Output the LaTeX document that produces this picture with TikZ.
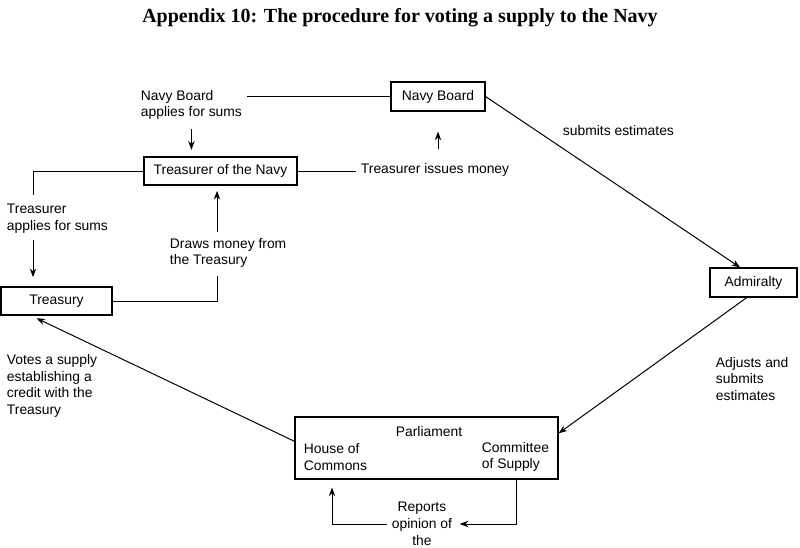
\documentclass[tikz,border=0pt]{standalone}
\usepackage{fontspec}
\setmainfont{Liberation Serif}
\setsansfont{Liberation Sans}
\usetikzlibrary{arrows.meta}
\newcommand{\flowfont}{\sffamily\fontsize{10.4}{12.6}\selectfont}

\begin{document}
\begin{tikzpicture}[x=0.75pt, y=-0.75pt,
		box/.style={draw, line width=0.8pt, inner sep=0pt, font=\flowfont},
		lbl/.style={font=\flowfont, align=left, anchor=west},
		arr/.style={-{Stealth[length=6.5pt, width=4.8pt]}},
		every path/.style={line width=0.75pt}]
			\useasboundingbox (0,0) rectangle (800,547);

			% Title
			\node[font=\bfseries\fontsize{15}{18}\selectfont] (title) at (400,18)
				{Appendix 10: The procedure for voting a supply to the Navy};

			% Boxes
			\node[box, minimum width=70.5pt,  minimum height=21.75pt] (navyboard)  at (438,96.5)  {Navy Board};
			\node[box, minimum width=114.75pt, minimum height=21pt]   (treasurer)  at (220.5,171) {Treasurer of the Navy};
			\node[box, minimum width=83.25pt, minimum height=21pt]    (treasury)   at (56.5,301)  {Treasury};
			\node[box, minimum width=65.25pt, minimum height=21.75pt] (admiralty)  at (753.5,282.5) {Admiralty};
			\node[box, minimum width=197.25pt, minimum height=46.5pt] (parliament) at (426.5,448) {};

			% Inside Parliament
			\node[font=\flowfont] (parl) at (429,432) {Parliament};
			\node[lbl] (commons)   at (299,457) {House of\\Commons};
			\node[lbl] (committee) at (477,457) {Committee\\of Supply};

			% Labels
			\node[lbl] (nbapplies) at (136,105) {Navy Board\\applies for sums};
			\node[lbl] (trapplies) at (2,219)   {Treasurer\\applies for sums};
			\node[lbl] (draws)     at (165,253) {Draws money from\\the Treasury};
			\node[lbl] (issues)    at (356,170) {Treasurer issues money};
			\node[lbl] (submits)   at (558,131) {submits estimates};
			\node[lbl] (adjusts)   at (711,379) {Adjusts and\\submits\\estimates};
			\node[lbl] (votes)     at (2,386)   {Votes a supply\\establishing a\\credit with the\\Treasury};
			\node[font=\flowfont, align=center] (reports) at (422,524) {Reports\\opinion of\\the};

			% Free ends
			\coordinate (trtop) at (33,195);
			\coordinate (trarr) at (33,240);
			\coordinate (drbot) at (217,276);
			\coordinate (drtop) at (217,232);
			\coordinate (rpl) at (332,524);
			\coordinate (rpr) at (516,524);

			% Navy Board side
			\draw (navyboard.west) -- (navyboard.west -| nbapplies.east);
			\draw[arr, shorten <=3pt, shorten >=5pt] (nbapplies.south) -- (nbapplies.south |- treasurer.north);
			\draw (treasurer.east) -- (treasurer.east -| issues.west);
			\draw[arr, shorten <=7pt, shorten >=15pt] (navyboard.south |- issues.north) -- (navyboard.south);

			% Treasury side
			\draw (treasurer.west) -| (trtop);
			\draw[arr, shorten >=7pt] (trarr) -- (trarr |- treasury.north);
			\draw (treasury.east) -| (drbot);
			\draw[arr, shorten >=4pt] (drtop) -- (drtop |- treasurer.south);

			% Round the loop
			\draw[arr] (navyboard.east) -- ([xshift=-10pt]admiralty.north);
			\draw[arr] ([xshift=-5pt]admiralty.south) -- ([yshift=11pt]parliament.east);
			\draw[arr] ([yshift=5pt]parliament.west) -- ([xshift=-15pt, yshift=-2pt]treasury.south);

			% Committee reports to the House
			\draw[arr, shorten >=2pt] (rpr |- parliament.south) |- (reports.east);
			\draw[arr, shorten >=6pt] (reports.west) -| (rpl |- parliament.south);

		\end{tikzpicture}
\end{document}
